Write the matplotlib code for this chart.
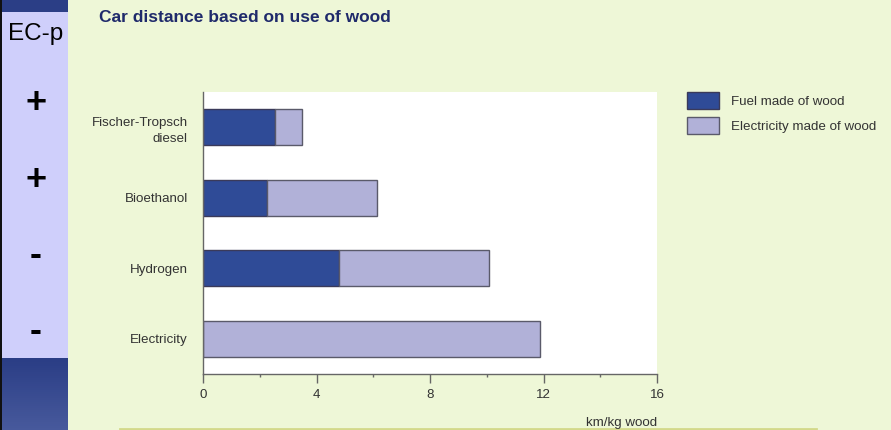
import numpy as np
import matplotlib.pyplot as plt
from matplotlib.patches import Rectangle
from matplotlib.lines import Line2D

plt.rcParams['font.family'] = ['Liberation Sans', 'DejaVu Sans']

categories = ['Fischer-Tropsch\ndiesel', 'Bioethanol', 'Hydrogen', 'Electricity']
fuel = [2.54, 2.26, 4.80, 0.0]
electricity = [0.95, 3.87, 5.29, 11.88]
series_names = ['Fuel made of wood', 'Electricity made of wood']
side_marks = ['+', '+', '-', '-']

W, H = 891, 430
fig = plt.figure(figsize=(W / 100, H / 100), dpi=100)
fig.patch.set_facecolor('#eef7d7')


def fig_rect(x, y, w, h, color):
    # rectangle in pixel units, measured from the top left corner
    fig.patches.append(Rectangle((x / W, 1 - (y + h) / H), w / W, h / H,
                                 transform=fig.transFigure, facecolor=color,
                                 edgecolor='none', linewidth=0))


# left side bar
fig_rect(0, 0, 68, H, '#cfcffb')
fig_rect(0, 0, 68, 12, '#2b3e86')
c0 = np.array([0x2a, 0x3d, 0x85]) / 255
c1 = np.array([0x47, 0x59, 0x9c]) / 255
n = 36
for i in range(n):
    t = i / (n - 1)
    fig_rect(0, 358 + i * 72 / n, 68, 72 / n + 0.5, tuple(c0 + (c1 - c0) * t))
fig_rect(0, 0, 1.5, H, '#111111')

fig.text(36 / W, 1 - 34 / H, 'EC-p', fontsize=17.5, ha='center', va='center', color='black')
for mark, yy in zip(side_marks, [104, 180, 255, 331]):
    fig.text(36 / W, 1 - yy / H, mark, fontsize=26, fontweight='bold',
             ha='center', va='center', color='black')

fig.text(99 / W, 1 - 18 / H, 'Car distance based on use of wood', fontsize=12.5,
         fontweight='bold', color='#1f2a6b', ha='left', va='center')

# bottom rule
fig.lines.append(Line2D([120 / W, 816 / W], [1.5 / H, 1.5 / H], transform=fig.transFigure,
                        color='#d3d98a', linewidth=2))

ax = fig.add_axes([203 / W, 56 / H, 454 / W, 282 / H])
ax.set_facecolor('white')
y = np.arange(len(categories))
ax.barh(y, fuel, height=0.51, color='#2f4b97', edgecolor='#3a3a5a', linewidth=1,
        label=series_names[0])
ax.barh(y, electricity, left=fuel, height=0.51, color='#b1b1d8', edgecolor='#5a5a6a',
        linewidth=1, label=series_names[1])

ax.set_xlim(0, 16)
ax.set_ylim(3.5, -0.5)
ax.set_yticks(y)
ax.set_yticklabels(categories, fontsize=9.6, color='#333333', linespacing=1.45)
ax.tick_params(axis='y', length=0, pad=11)
ax.set_xticks([0, 4, 8, 12, 16])
ax.set_xticks([2, 6, 10, 14], minor=True)
ax.tick_params(axis='x', which='major', length=6.5, width=1, color='#666666',
               labelsize=9.6, labelcolor='#333333', pad=4)
ax.tick_params(axis='x', which='minor', length=2.5, width=1, color='#666666')
for side in ['top', 'right']:
    ax.spines[side].set_visible(False)
for side in ['left', 'bottom']:
    ax.spines[side].set_color('#666666')
    ax.spines[side].set_linewidth(1)

fig.text(657 / W, 1 - 423 / H, 'km/kg wood', fontsize=9.6, color='#333333',
         ha='right', va='center')

handles, labels = ax.get_legend_handles_labels()
fig.legend(handles, labels, loc='upper left', bbox_to_anchor=(676 / W, 1 - 81 / H),
           frameon=False, fontsize=9.6, handlelength=2.4, handleheight=1.65,
           handletextpad=0.9, labelspacing=0.55, labelcolor='#333333',
           borderpad=0.3)

fig.savefig('out.png', dpi=100, facecolor=fig.get_facecolor())
